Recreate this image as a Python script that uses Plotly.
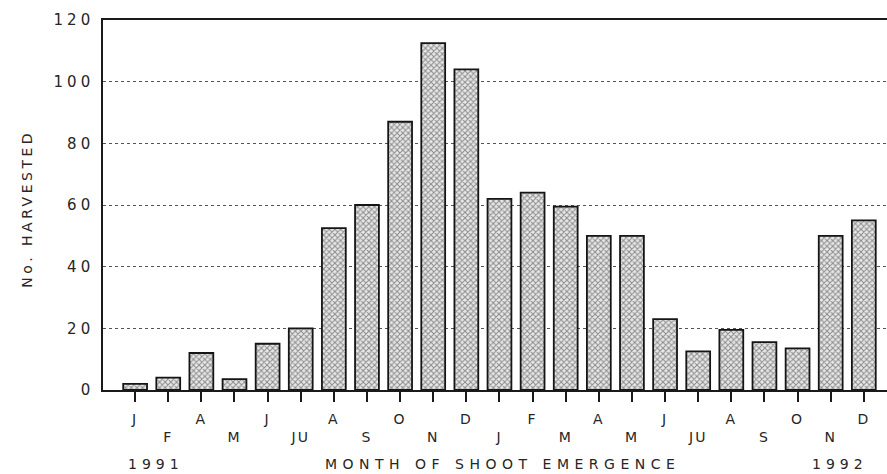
import plotly.graph_objects as go

# Monthly shoot emergence counts, 1991 through 1992
months = ["J", "F", "A", "M", "J", "JU", "A", "S", "O", "N", "D",
          "J", "F", "M", "A", "M", "J", "JU", "A", "S", "O", "N", "D"]
harvested = [2, 4, 12, 3.5, 15, 20, 52.5, 60, 87, 112.5, 104,
             62, 64, 59.5, 50, 50, 23, 12.5, 19.5, 15.5, 13.5, 50, 55]
y_ticks = [0, 20, 40, 60, 80, 100, 120]

FONT = "DejaVu Sans"
INK = "#262626"


def spaced(s, px):
    return f"<span style='letter-spacing:{px}px'>{s}</span>"


positions = list(range(len(months)))
# alternate the month labels between two rows
tick_text = [spaced(m, 2) if i % 2 == 0 else "<br>" + spaced(m, 2)
             for i, m in enumerate(months)]

fig = go.Figure()
fig.add_trace(go.Bar(
    x=positions,
    y=harvested,
    width=0.72,
    marker=dict(
        color="white",
        line=dict(color="#151515", width=1.8),
        pattern=dict(shape="x", size=4, solidity=0.45,
                     fgcolor="#303030", bgcolor="#e8e8e8"),
    ),
    hoverinfo="x+y",
))

fig.update_layout(
    width=887,
    height=474,
    margin=dict(l=103, r=0, t=20, b=84),
    paper_bgcolor="white",
    plot_bgcolor="white",
    showlegend=False,
    font=dict(family=FONT, color=INK, size=15),
    xaxis=dict(
        range=[-0.97, 22.7],
        tickmode="array",
        tickvals=positions,
        ticktext=tick_text,
        ticks="outside",
        ticklen=10,
        tickwidth=1.6,
        tickcolor="#1a1a1a",
        ticklabelstandoff=5,
        showgrid=False,
        zeroline=False,
        showline=True,
        linecolor="#1a1a1a",
        linewidth=1.6,
        mirror=True,
        tickfont=dict(family=FONT, size=14, color=INK),
        fixedrange=True,
    ),
    yaxis=dict(
        range=[0, 120],
        tickmode="array",
        tickvals=y_ticks,
        ticktext=[spaced(str(v), 4) for v in y_ticks],
        ticks="",
        ticklabelstandoff=4,
        showgrid=True,
        gridcolor="#555555",
        griddash="dot",
        gridwidth=1.2,
        zeroline=False,
        showline=True,
        linecolor="#1a1a1a",
        linewidth=1.6,
        tickfont=dict(family=FONT, size=15, color=INK),
        fixedrange=True,
    ),
    annotations=[
        dict(text=spaced("No. HARVESTED", 3.5), textangle=-90,
             xref="paper", yref="paper", x=-0.097, y=0.49,
             xanchor="center", yanchor="middle", showarrow=False,
             font=dict(family=FONT, size=14, color=INK)),
        dict(text=spaced("MONTH OF SHOOT EMERGENCE", 5.5),
             xref="paper", yref="paper", x=0.51, y=-0.2,
             xanchor="center", yanchor="middle", showarrow=False,
             font=dict(family=FONT, size=14, color=INK)),
        dict(text=spaced("1991", 5),
             xref="paper", yref="paper", x=0.068, y=-0.2,
             xanchor="center", yanchor="middle", showarrow=False,
             font=dict(family=FONT, size=14, color=INK)),
        dict(text=spaced("1992", 5),
             xref="paper", yref="paper", x=0.94, y=-0.2,
             xanchor="center", yanchor="middle", showarrow=False,
             font=dict(family=FONT, size=14, color=INK)),
    ],
)

fig.write_html("out.html")
